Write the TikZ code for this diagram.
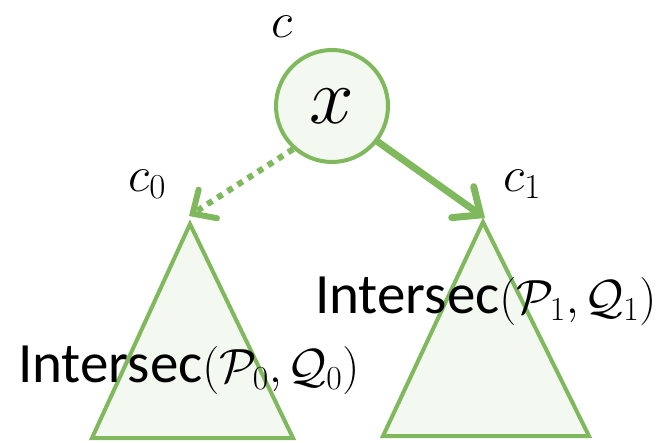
\RequirePackage{fix-cm}
\documentclass[tikz,border=0pt]{standalone}
\usepackage{fontspec}
\setmainfont{Carlito}
\usepackage{amsmath}
\usepackage{amssymb}
\usetikzlibrary{positioning,arrows.meta}
\definecolor{treegreen}{RGB}{128,184,94}
\definecolor{treefill}{RGB}{243,248,240}
\newcommand{\isect}[2]{Intersec{\fontsize{48}{56}\selectfont$(\mathcal{P}_{#1}{,}\mskip2mu\mathcal{Q}_{#2})$}}

\begin{document}
\begin{tikzpicture}[x=1pt, y=-1pt,
  edge/.style={draw=treegreen, line cap=round, line join=round},
  subtree/.style={draw=treegreen, fill=treefill, line width=4pt, line join=miter},
  lbl/.style={inner sep=0pt, anchor=base west, font=\fontsize{50}{60}\selectfont},
  txt/.style={inner sep=0pt, anchor=base west, font=\fontsize{57}{64}\selectfont}]
\useasboundingbox (0,0) rectangle (664,442);
\draw[subtree] (190,224) -- (92,438) -- (293,438) -- cycle;
\draw[subtree] (483,222) -- (383,436) -- (589,436) -- cycle;
\node[circle, minimum size=112pt, draw=treegreen, fill=treefill, line width=4pt,
  inner sep=0pt, font=\fontsize{80}{80}\selectfont] (x) at (332,106) {$x$};
\node[lbl] (c) at (271,37) {$c$};
\node[lbl] (c0) at (128,191) {$c_0$};
\node[lbl] (c1) at (503,191) {$c_1$};
\coordinate (t0) at (189,216);
\coordinate (t1) at (485,218);
\draw[edge, line width=6pt, dash pattern=on 6pt off 6pt, line cap=butt,
  -{Straight Barb[length=18pt, width=34pt, line width=6pt, line cap=round]}]
  (x.-132) -- (t0);
\draw[edge, line width=7pt,
  -{Straight Barb[length=22pt, width=38pt, line width=7pt, line cap=round]}]
  (x.-38) -- (t1);
\node[txt] (i0) at (18,382) {\isect{0}{0}};
\node[txt] (i1) at (315,313) {\isect{1}{1}};
\end{tikzpicture}
\end{document}
